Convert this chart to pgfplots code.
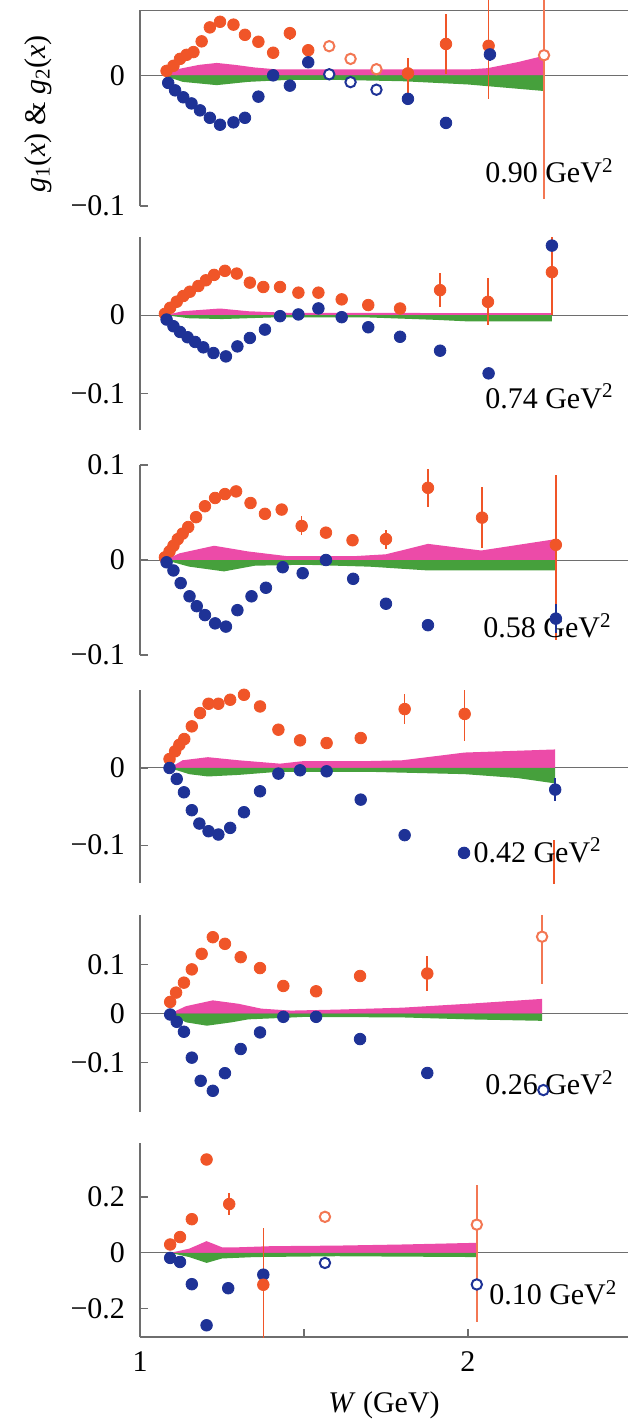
\documentclass[border=0pt]{standalone}
\usepackage{fontspec}
\setmainfont{Liberation Serif}
\usepackage{pgfplots}
\pgfplotsset{compat=1.18}

\definecolor{orng}{RGB}{240,85,40}
\definecolor{blu}{RGB}{30,50,150}
\definecolor{mag}{RGB}{236,75,168}
\definecolor{grn}{RGB}{70,160,60}
\definecolor{axg}{RGB}{110,110,110}

\newcommand\lab{\fontsize{15bp}{18bp}\selectfont}

\pgfplotsset{
 panel/.style={scale only axis, width=244bp, xmin=1, xmax=2.488, anchor=south west,
   axis y line*=left, tick align=inside, major tick length=4bp,
   axis line style={axg, line width=0.6pt}, tick style={axg, line width=0.6pt},
   yticklabel style={font=\lab, xshift=-4bp}, xticklabel style={font=\lab}},
 fo/.style={only marks, mark=*, mark size=2.9bp, orng, mark options={fill=orng, draw=orng}},
 fb/.style={only marks, mark=*, mark size=2.9bp, blu, mark options={fill=blu, draw=blu}},
 oo/.style={only marks, mark=*, mark size=2.6bp, orng!80, mark options={fill=white, draw=orng!80, line width=1pt}},
 ob/.style={only marks, mark=*, mark size=2.6bp, blu, mark options={fill=white, draw=blu, line width=1pt}},
 eb/.style={error bars/.cd, y dir=both, y explicit, error mark=none, error bar style={line width=0.8pt}},
 zl/.style={axg, line width=0.5pt},
 bm/.style={fill=mag, draw=none},
 bg/.style={fill=grn, draw=none},
}
\newcommand\qlab[3]{\node[font=\lab, anchor=base east, inner sep=0pt] at (axis cs:#1,#2) {#3~GeV\textsuperscript{2}};}

\begin{document}
\begin{tikzpicture}
\useasboundingbox (0,0) rectangle (314bp,-711bp);

% 0.90 GeV^2
\begin{axis}[panel, axis x line=none, at={(70bp,-103bp)}, height=98bp, ymin=-0.1, ymax=0.05,
  ytick={-0.1,0}, yticklabels={−0.1,0}, clip=false]
\addplot[zl] coordinates {(1,0)(2.488,0)};
\addplot[zl] coordinates {(1,0.05)(2.488,0.05)};
\addplot[bm] coordinates {(1.071,0)(1.12,0.005)(1.18,0.008)(1.234,0.0095)(1.29,0.008)(1.35,0.006)(1.42,0.0045)(1.6,0.0045)(1.8,0.0045)(2.0,0.0045)(2.06,0.0055)(2.15,0.01)(2.232,0.015)(2.232,0)} -- cycle;
\addplot[bg] coordinates {(1.071,0)(1.13,-0.005)(1.234,-0.0075)(1.33,-0.005)(1.45,-0.0035)(1.6,-0.0035)(1.8,-0.0045)(2.0,-0.007)(2.232,-0.012)(2.232,0)} -- cycle;
\addplot[fo] coordinates {(1.081,0.0034)(1.102,0.0073)(1.122,0.0126)(1.142,0.0157)(1.163,0.0178)(1.188,0.026)(1.213,0.0367)(1.244,0.041)(1.285,0.0388)(1.320,0.031)(1.361,0.0257)(1.406,0.0173)};
\addplot[fo, eb] coordinates {(1.457,0.0323) +- (0,0.005) (1.513,0.0192) +- (0,0.004)
  (1.817,0.0015) += (0,0.012) -= (0,0.018) (1.933,0.024) +- (0,0.023) (2.063,0.0226) += (0,0.036) -= (0,0.041)};
\addplot[oo, eb] coordinates {(1.577,0.0223)(1.642,0.0126)(1.721,0.0047) (2.232,0.0154) += (0,0.043) -= (0,0.11)};
\addplot[fb] coordinates {(1.086,-0.0058)(1.107,-0.0115)(1.132,-0.0168)(1.157,-0.0215)(1.183,-0.0268)(1.213,-0.0325)(1.244,-0.0378)(1.285,-0.036)(1.320,-0.0325)(1.361,-0.0163)(1.406,0)(1.457,-0.0079)(1.817,-0.018)};
\addplot[fb, eb] coordinates {(1.513,0.010) +- (0,0.004) (1.933,-0.0364) +- (0,0.004) (2.067,0.016) +- (0,0.005)};
\addplot[ob] coordinates {(1.577,0.0008)(1.642,-0.0052)(1.721,-0.011)};
\qlab{2.445}{-0.0823}{0.90}
\end{axis}

% 0.74 GeV^2
\begin{axis}[panel, axis x line=none, at={(70bp,-215bp)}, height=96.5bp, ymin=-0.147, ymax=0.1,
  ytick={-0.1,0}, yticklabels={−0.1,0}]
\addplot[zl] coordinates {(1,0)(2.488,0)};
\addplot[bm] coordinates {(1.076,0)(1.13,0.005)(1.244,0.0085)(1.33,0.005)(1.45,0.003)(1.7,0.003)(2.0,0.0025)(2.256,0.0025)(2.256,0)} -- cycle;
\addplot[bg] coordinates {(1.076,0)(1.15,-0.004)(1.25,-0.005)(1.4,-0.003)(1.7,-0.003)(1.9,-0.006)(2.0,-0.008)(2.256,-0.008)(2.256,0)} -- cycle;
\addplot[fo] coordinates {(1.076,0.0017)(1.092,0.0094)(1.112,0.0172)(1.132,0.0245)(1.152,0.030)(1.178,0.0373)(1.201,0.0446)(1.226,0.0515)(1.259,0.0567)(1.295,0.0532)(1.335,0.0416)(1.376,0.036)(1.427,0.036)(1.483,0.0288)(1.544,0.0288)(1.615,0.0202)(1.696,0.0129)};
\addplot[fo, eb] coordinates {(1.793,0.0085) +- (0,0.005) (1.915,0.032) +- (0,0.022) (2.061,0.017) +- (0,0.03) (2.256,0.055) +- (0,0.055)};
\addplot[fb] coordinates {(1.081,-0.0056)(1.102,-0.0142)(1.122,-0.0215)(1.145,-0.0283)(1.168,-0.0343)(1.193,-0.0412)(1.224,-0.0485)(1.262,-0.0528)(1.297,-0.040)(1.335,-0.0292)(1.381,-0.0185)(1.427,-0.0013)(1.483,0.0009)(1.544,0.0086)(1.615,-0.0026)(1.696,-0.0155)(1.793,-0.0277)(1.915,-0.0455)(2.063,-0.0745)};
\addplot[fb, eb] coordinates {(2.256,0.089) +- (0,0.006)};
\qlab{2.445}{-0.119}{0.74}
\end{axis}

% 0.58 GeV^2
\begin{axis}[panel, axis x line=none, at={(70bp,-327.5bp)}, height=95bp, ymin=-0.1, ymax=0.1,
  ytick={-0.1,0,0.1}, yticklabels={−0.1,0,0.1}]
\addplot[zl] coordinates {(1,0)(2.488,0)};
\addplot[bm] coordinates {(1.076,0)(1.12,0.007)(1.226,0.015)(1.33,0.009)(1.45,0.004)(1.65,0.004)(1.75,0.006)(1.878,0.017)(2.04,0.01)(2.268,0.022)(2.268,0)} -- cycle;
\addplot[bg] coordinates {(1.076,0)(1.15,-0.007)(1.256,-0.012)(1.35,-0.006)(1.5,-0.005)(1.7,-0.007)(1.878,-0.011)(2.268,-0.011)(2.268,0)} -- cycle;
\addplot[fo] coordinates {(1.076,0.0028)(1.090,0.009)(1.102,0.015)(1.115,0.0219)(1.130,0.0278)(1.147,0.0347)(1.171,0.0451)(1.198,0.0566)(1.229,0.0653)(1.259,0.0694)(1.293,0.0722)(1.337,0.060)(1.381,0.0486)(1.432,0.0531)};
\addplot[fo, eb] coordinates {(1.493,0.0358) +- (0,0.01) (1.567,0.0288) +- (0,0.004) (1.648,0.0208) +- (0,0.006) (1.750,0.022) +- (0,0.01)
  (1.878,0.076) +- (0,0.02) (2.043,0.0446) +- (0,0.032) (2.268,0.016) += (0,0.074) -= (0,0.10)};
\addplot[fb] coordinates {(1.081,-0.0024)(1.102,-0.011)(1.124,-0.0243)(1.151,-0.0382)(1.173,-0.0486)(1.198,-0.058)(1.229,-0.0667)(1.262,-0.0701)(1.297,-0.0528)(1.340,-0.0382)(1.384,-0.0292)(1.435,-0.0076)(1.496,-0.0139)(1.567,0)(1.650,-0.0198)(1.750,-0.046)(1.878,-0.0686)};
\addplot[fb, eb] coordinates {(2.268,-0.0617) +- (0,0.015)};
\qlab{2.439}{-0.082}{0.58}
\end{axis}

% 0.42 GeV^2
\begin{axis}[panel, axis x line=none, at={(70bp,-441.5bp)}, height=96.5bp, ymin=-0.149, ymax=0.101,
  ytick={-0.1,0}, yticklabels={−0.1,0}]
\addplot[zl] coordinates {(1,0)(2.488,0)};
\addplot[bm] coordinates {(1.09,0)(1.13,0.01)(1.207,0.014)(1.3,0.01)(1.427,0.0056)(1.5,0.009)(1.7,0.009)(1.8,0.01)(1.99,0.02)(2.266,0.024)(2.266,0)} -- cycle;
\addplot[bg] coordinates {(1.09,0)(1.15,-0.008)(1.207,-0.011)(1.3,-0.009)(1.42,-0.005)(1.7,-0.005)(1.99,-0.008)(2.15,-0.013)(2.266,-0.02)(2.266,0)} -- cycle;
\addplot[fo] coordinates {(1.090,0.0116)(1.107,0.0216)(1.120,0.030)(1.135,0.0375)(1.158,0.0539)(1.183,0.0711)(1.209,0.0832)(1.239,0.0832)(1.275,0.0884)(1.317,0.0948)(1.366,0.0797)(1.422,0.0496)(1.488,0.0358)(1.569,0.0323)(1.673,0.0388)};
\addplot[fo, eb] coordinates {(1.807,0.0763) +- (0,0.019) (1.990,0.070) +- (0,0.035) (2.262,-0.19) +- (0,0.097)};
\addplot[fb] coordinates {(1.090,0)(1.112,-0.0142)(1.134,-0.0315)(1.158,-0.0547)(1.181,-0.072)(1.209,-0.0819)(1.239,-0.0862)(1.275,-0.0776)(1.317,-0.0573)(1.366,-0.0302)(1.422,-0.0073)(1.488,-0.003)(1.569,-0.0043)(1.673,-0.041)(1.807,-0.087)(1.988,-0.11)};
\addplot[fb, eb] coordinates {(2.266,-0.028) +- (0,0.015)};
\qlab{2.409}{-0.122}{0.42}
\end{axis}

% 0.26 GeV^2
\begin{axis}[panel, axis x line=none, at={(70bp,-556bp)}, height=98.5bp, ymin=-0.202, ymax=0.202,
  ytick={-0.1,0,0.1}, yticklabels={−0.1,0,0.1}]
\addplot[zl] coordinates {(1,0)(2.488,0)};
\addplot[bm] coordinates {(1.092,0)(1.14,0.015)(1.222,0.027)(1.30,0.02)(1.37,0.01)(1.46,0.006)(1.6,0.008)(1.8,0.012)(2.0,0.02)(2.226,0.03)(2.226,0)} -- cycle;
\addplot[bg] coordinates {(1.092,0)(1.14,-0.018)(1.204,-0.025)(1.28,-0.018)(1.33,-0.012)(1.4,-0.01)(1.5,-0.007)(1.8,-0.008)(2.0,-0.012)(2.226,-0.015)(2.226,0)} -- cycle;
\addplot[fo] coordinates {(1.092,0.0238)(1.110,0.0429)(1.134,0.0633)(1.158,0.0905)(1.188,0.1224)(1.222,0.1565)(1.259,0.1429)(1.307,0.1156)(1.366,0.0932)(1.437,0.0565)(1.537,0.0456)(1.671,0.0769)};
\addplot[fo, eb] coordinates {(1.876,0.082) +- (0,0.035)};
\addplot[oo, eb] coordinates {(2.226,0.1575) += (0,0.048) -= (0,0.096)};
\addplot[fb] coordinates {(1.092,-0.002)(1.112,-0.017)(1.134,-0.0374)(1.158,-0.0905)(1.185,-0.138)(1.222,-0.1585)(1.259,-0.1224)(1.307,-0.0728)(1.366,-0.0388)(1.437,-0.0068)(1.537,-0.0068)(1.671,-0.0524)(1.876,-0.122)};
\addplot[ob] coordinates {(2.23,-0.157)};
\qlab{2.445}{-0.167}{0.26}
\end{axis}

% 0.10 GeV^2
\begin{axis}[panel, at={(70bp,-668.5bp)}, height=97bp, ymin=-0.301, ymax=0.393,
  axis x line*=bottom, xtick={1,1.5,2}, xticklabels={1,,2},
  xticklabel style={anchor=base, yshift=-17bp},
  ytick={-0.2,0,0.2}, yticklabels={−0.2,0,0.2},
  xlabel={\textit{W} (GeV)},
  xlabel style={font=\lab, at={(axis description cs:0.5,0)}, anchor=center, yshift=-34bp}]
\addplot[zl] coordinates {(1,0)(2.488,0)};
\addplot[bm] coordinates {(1.092,0)(1.15,0.015)(1.203,0.042)(1.25,0.02)(1.30,0.02)(1.40,0.024)(1.6,0.026)(1.8,0.03)(2.027,0.036)(2.027,0)} -- cycle;
\addplot[bg] coordinates {(1.092,0)(1.15,-0.015)(1.203,-0.036)(1.25,-0.02)(1.35,-0.015)(1.6,-0.012)(2.027,-0.015)(2.027,0)} -- cycle;
\addplot[fb] coordinates {(1.092,-0.018)(1.122,-0.0325)(1.158,-0.112)(1.203,-0.259)(1.269,-0.1265)(1.376,-0.078)};
\addplot[ob] coordinates {(1.564,-0.036)(2.027,-0.113)};
\addplot[fo] coordinates {(1.092,0.030)(1.122,0.0566)(1.158,0.1205)(1.203,0.334)};
\addplot[fo, eb] coordinates {(1.272,0.1747) +- (0,0.04) (1.376,-0.114) += (0,0.204) -= (0,0.3)};
\addplot[oo, eb] coordinates {(1.564,0.129) +- (0,0.015) (2.027,0.101) += (0,0.143) -= (0,0.35)};
\qlab{2.457}{-0.186}{0.10}
\end{axis}

\node[font=\lab, rotate=90] at (19bp,-57bp) {\textit{g}\textsubscript{1}(\textit{x}) \& \textit{g}\textsubscript{2}(\textit{x})};
\end{tikzpicture}
\end{document}
